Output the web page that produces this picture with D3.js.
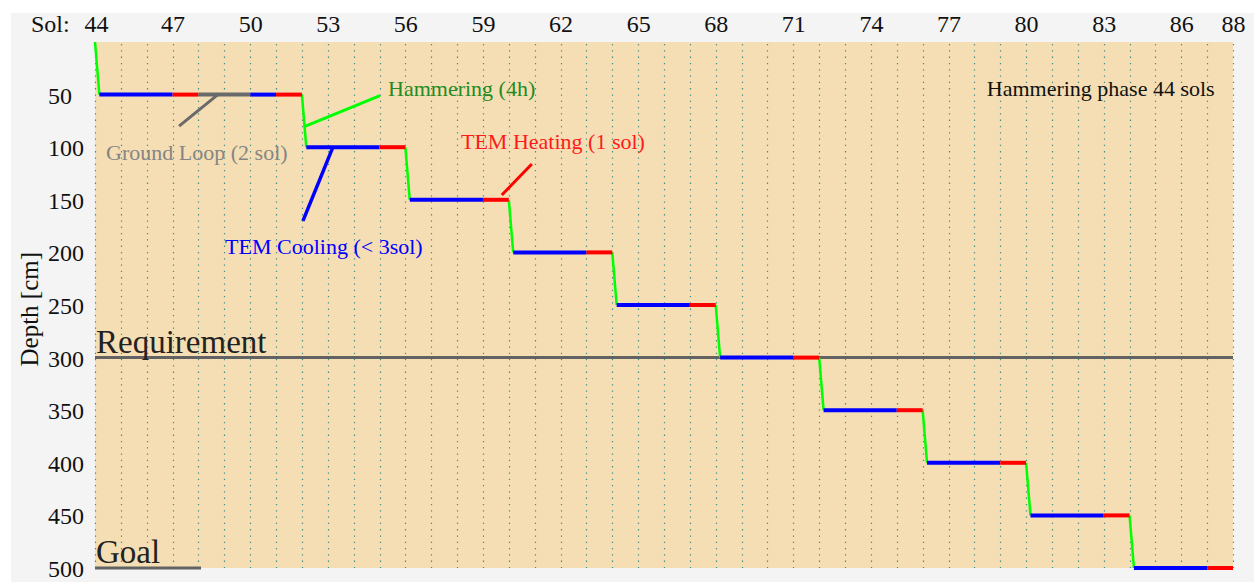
<!DOCTYPE html>
<html><head><meta charset="utf-8">
<script src="https://cdn.jsdelivr.net/npm/d3@7"></script>
<style>
html,body{margin:0;padding:0;background:#fff;}
svg{display:block;font-family:"Liberation Serif","Times New Roman",serif;}
</style></head>
<body>
<script>
// ---- data ----
const solTicks = [44,47,50,53,56,59,62,65,68,71,74,77,80,83,86,88];
const depthTicks = [50,100,150,200,250,300,350,400,450,500];
const gridSols = d3.range(44, 89, 1);
// hammering: [startSol, startDepth, endSol, endDepth]
const hammering = [
  [44,0,44.17,50],[52,50,52.17,100],[56,100,56.17,150],[60,150,60.17,200],
  [64,200,64.17,250],[68,250,68.17,300],[72,300,72.17,350],[76,350,76.17,400],
  [80,400,80.17,450],[84,450,84.17,500]
];
// TEM cooling: [startSol, endSol, depth]
const cooling = [
  [44.17,47,50],[50,51,50],[52.17,55,100],[56.17,59,150],[60.17,63,200],
  [64.17,67,250],[68.17,71,300],[72.17,75,350],[76.17,79,400],[80.17,83,450],[84.17,87,500]
];
// TEM heating: [startSol, endSol, depth]
const heating = [
  [47,48,50],[51,52,50],[55,56,100],[59,60,150],[63,64,200],[67,68,250],
  [71,72,300],[75,76,350],[79,80,400],[83,84,450],[87,88,500]
];
// ground loop: [startSol, endSol, depth]
const groundLoop = [[48,50,50]];
// reference depths
const refLines = [{label:"Requirement", depth:300, end:88},{label:"Goal", depth:500, end:48.1}];

const W = 1254, H = 582;
const svg = d3.select("body").append("svg").attr("width", W).attr("height", H);

// outer panel
svg.append("rect").attr("x",11).attr("y",13).attr("width",W-11).attr("height",H-13).attr("fill","#f4f4f4");

const x = d3.scaleLinear().domain([44,88]).range([95,1233]);
const y = d3.scaleLinear().domain([0,500]).range([42,568]);

svg.append("rect").attr("x",x(44)).attr("y",y(0)).attr("width",x(88)-x(44)).attr("height",y(500)-y(0)).attr("fill","#f5deb3");

// dotted vertical grid
svg.append("g").selectAll("line").data(gridSols).join("line")
  .attr("x1",d=>Math.round(x(d))+0.5).attr("x2",d=>Math.round(x(d))+0.5)
  .attr("y1",y(0)+2).attr("y2",y(500))
  .attr("stroke","#3f8f86").attr("stroke-width",1.2).attr("stroke-dasharray","1.3,5");

// axes
const topAxis = d3.axisTop(x).tickValues(solTicks).tickSize(0).tickPadding(0).tickFormat(d3.format("d"));
const gTop = svg.append("g").attr("transform",`translate(0,${y(0)-10})`).call(topAxis);
gTop.select(".domain").remove();
gTop.selectAll("text").attr("font-size",24).attr("fill","#111").attr("font-family","Liberation Serif").attr("dy","0");
gTop.selectAll("text").filter(d=>d===44).attr("dx",1);
svg.append("text").attr("x",31).attr("y",y(0)-10).attr("font-size",24).attr("fill","#111").text("Sol:");

const leftAxis = d3.axisLeft(y).tickValues(depthTicks).tickSize(0).tickPadding(0);
const gLeft = svg.append("g").attr("transform",`translate(48,0)`).call(leftAxis);
gLeft.select(".domain").remove();
gLeft.selectAll("text").attr("font-size",24).attr("fill","#111").attr("font-family","Liberation Serif")
  .attr("dy","0.35em").attr("text-anchor","start");

svg.append("text").attr("transform",`translate(38,${y(254)}) rotate(-90)`).attr("text-anchor","middle")
  .attr("font-size",25).attr("fill","#111").text("Depth [cm]");

// reference lines
refLines.forEach(r=>{
  svg.append("line").attr("x1",x(44)).attr("x2",x(r.end)).attr("y1",y(r.depth)).attr("y2",y(r.depth))
    .attr("stroke","#626262").attr("stroke-width",3);
  svg.append("text").attr("x",x(44)+1).attr("y",y(r.depth)-5).attr("font-size",33).attr("fill","#222").text(r.label);
});

// series
const g = svg.append("g");
g.selectAll("line.ham").data(hammering).join("line").attr("class","ham")
  .attr("x1",d=>x(d[0])).attr("y1",d=>y(d[1])).attr("x2",d=>x(d[2])).attr("y2",d=>y(d[3]))
  .attr("stroke","#00ff00").attr("stroke-width",2.5);
function segs(data, color, cls){
  g.selectAll("line."+cls).data(data).join("line").attr("class",cls)
    .attr("x1",d=>x(d[0])).attr("x2",d=>x(d[1])).attr("y1",d=>y(d[2])).attr("y2",d=>y(d[2]))
    .attr("stroke",color).attr("stroke-width",4);
}
segs(cooling,"#0000ff","cool");
segs(heating,"#ff0000","heat");
segs(groundLoop,"#6a6a6a","gl");

// annotations [x1,y1,x2,y2] in data units, text at [sol, depth]
const annotations = [
  {line:[47.25,80,48.75,50], text:"Ground Loop (2 sol)", at:[44.43,104.6], lc:"#6a6a6a", tc:"#858585", w:3},
  {line:[52.14,80,55.02,51], text:"Hammering (4h)", at:[55.33,43.7], lc:"#00ff00", tc:"#228b22", w:3},
  {line:[59.73,145.4,60.89,116], text:"TEM Heating (1 sol)", at:[58.15,94], lc:"#ff0000", tc:"#ff1a1a", w:3},
  {line:[52.04,170,53.2,100], text:"TEM Cooling (< 3sol)", at:[49.03,194], lc:"#0000ff", tc:"#0000ff", w:3.5},
  {line:null, text:"Hammering phase 44 sols", at:[78.48,43.7], tc:"#111"}
];
annotations.forEach(a=>{
  if(a.line) svg.append("line").attr("x1",x(a.line[0])).attr("y1",y(a.line[1])).attr("x2",x(a.line[2])).attr("y2",y(a.line[3]))
    .attr("stroke",a.lc).attr("stroke-width",a.w);
  svg.append("text").attr("x",x(a.at[0])).attr("y",y(a.at[1])).attr("dy","0.35em")
    .attr("font-size",22).attr("fill",a.tc).text(a.text);
});
</script>
</body></html>
